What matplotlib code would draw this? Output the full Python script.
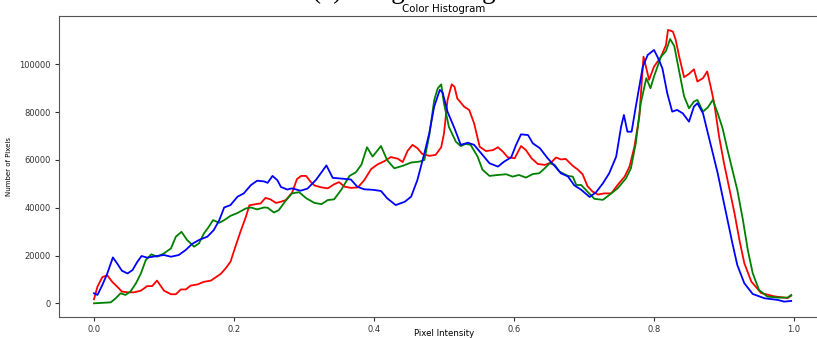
import numpy as np
import matplotlib
matplotlib.use("Agg")
import matplotlib.pyplot as plt

# ---- data (pixel counts in thousands) ----
red_x = [0.000,0.005,0.012,0.019,0.026,0.033,0.040,0.048,0.057,0.067,0.076,0.083,0.090,0.100,0.110,0.117,
         0.124,0.131,0.138,0.148,0.157,0.167,0.174,0.181,0.188,0.195,0.202,0.210,0.217,0.222,0.231,0.238,
         0.245,0.252,0.260,0.267,0.274,0.283,0.290,0.296,0.303,0.309,0.315,0.325,0.334,0.343,0.350,0.358,
         0.367,0.377,0.386,0.396,0.405,0.415,0.424,0.434,0.441,0.448,0.455,0.462,0.469,0.479,0.488,0.496,
         0.500,0.505,0.511,0.515,0.519,0.529,0.536,0.543,0.551,0.560,0.570,0.577,0.584,0.591,0.601,0.610,
         0.617,0.625,0.634,0.644,0.653,0.660,0.667,0.674,0.684,0.691,0.698,0.705,0.712,0.720,0.729,0.739,
         0.748,0.758,0.765,0.772,0.779,0.785,0.793,0.800,0.810,0.817,0.820,0.827,0.831,0.836,0.843,0.850,
         0.857,0.862,0.870,0.876,0.881,0.886,0.893,0.900,0.907,0.915,0.922,0.929,0.939,0.953,0.972,0.991,0.996]
red_k = [1.7,7,11,11.7,9,7,4.9,4.6,4.6,5.3,7.2,7.2,9.5,5.3,3.8,3.8,
         5.8,5.8,7.4,7.9,9.0,9.5,10.9,12.3,14.6,17.4,23.7,30.6,36.2,41,41.5,41.8,
         44.1,43.5,42,42.5,43.2,46.3,52,53.3,53.3,51,49.3,48.5,48.1,49.8,50.7,48.8,
         48.3,48.5,51.5,56.2,58.1,59.5,61.2,60.5,59.1,63.8,66.3,64.9,62.5,61.7,62.1,65.3,
         71.1,85,91.6,90.6,85.7,82.2,80.9,75.3,65.5,63.7,64.1,65.3,63.5,61.1,60.7,65.8,
         64.1,60.7,58.3,57.9,58.9,61.0,60.2,60.4,57.5,56,54,49,46.8,45.5,46,46,
         49.5,53,57.2,65.5,78.1,103.2,93.5,99,103.2,108,114.4,113.7,110.2,103.2,94.6,96,
         97.9,92.8,94.2,97,90.6,83.7,69.7,58.6,48.8,37.7,26.5,16.8,9.1,4.3,2.9,2.2,3.2]

green_x = [0.000,0.024,0.031,0.038,0.045,0.052,0.060,0.067,0.074,0.082,0.090,0.100,0.110,0.117,0.125,0.133,
           0.143,0.150,0.157,0.164,0.170,0.179,0.186,0.195,0.205,0.217,0.224,0.233,0.243,0.248,0.257,0.264,
           0.274,0.283,0.293,0.303,0.315,0.325,0.334,0.343,0.353,0.365,0.374,0.382,0.390,0.398,0.410,0.419,
           0.429,0.441,0.453,0.465,0.472,0.479,0.486,0.491,0.496,0.500,0.507,0.517,0.524,0.531,0.538,0.548,
           0.555,0.565,0.577,0.589,0.598,0.607,0.617,0.627,0.636,0.644,0.651,0.658,0.665,0.677,0.684,0.689,
           0.696,0.705,0.715,0.727,0.736,0.748,0.760,0.767,0.774,0.781,0.789,0.795,0.800,0.810,0.817,0.823,
           0.829,0.836,0.843,0.850,0.857,0.862,0.870,0.877,0.884,0.891,0.898,0.905,0.912,0.919,0.927,0.934,
           0.941,0.950,0.962,0.977,0.991,0.996]
green_k = [0,0.4,2.1,4.2,3.5,4.9,8.4,12.5,18.1,20.5,19.5,20.9,23,27.9,29.9,26.5,
           23.7,25.1,29.2,32,34.8,33.7,34.8,36.6,37.8,39.7,40.1,39.3,40.1,40,38,39,
           43,46,46.5,44,42,41.5,43.2,43.5,47.4,53.3,54.8,58,65.3,61.4,65.8,59.8,
           56.5,57.5,58.9,59.3,60,70.4,85,89.9,91.6,83.6,73.8,67.6,65.8,66.7,66.3,61.4,
           55.9,53.3,53.7,54,53,53.7,52.6,54.1,54.4,56.5,58.6,57.9,55.1,53.3,53,49.5,
           49.5,46.7,43.7,43.3,45.3,48.1,52.3,56.5,67,83.6,94.2,90,94.9,103.2,105.5,110.6,
           107.6,97,86.6,81.6,84.4,85.1,80.2,82,85.1,79.5,73.2,64.2,55.8,47.4,34.9,22.3,
           12.6,5.6,2.8,2.4,2.4,3.5]

blue_x = [0.000,0.005,0.012,0.019,0.027,0.033,0.040,0.048,0.055,0.062,0.068,0.076,0.090,0.100,0.110,0.121,
          0.131,0.140,0.150,0.162,0.171,0.179,0.186,0.195,0.205,0.214,0.224,0.233,0.243,0.248,0.255,0.262,
          0.267,0.276,0.283,0.295,0.305,0.317,0.324,0.332,0.341,0.353,0.367,0.376,0.386,0.398,0.410,0.419,
          0.431,0.444,0.453,0.462,0.472,0.479,0.486,0.494,0.498,0.505,0.515,0.524,0.534,0.543,0.553,0.565,
          0.577,0.586,0.596,0.603,0.610,0.620,0.627,0.637,0.648,0.658,0.667,0.677,0.686,0.696,0.708,0.717,
          0.727,0.736,0.746,0.753,0.757,0.762,0.768,0.774,0.784,0.791,0.800,0.806,0.812,0.819,0.826,0.833,
          0.841,0.850,0.857,0.862,0.870,0.877,0.884,0.891,0.898,0.905,0.912,0.919,0.929,0.941,0.958,0.977,
          0.986,0.996]
blue_k = [4.2,3.5,7.7,12.5,19.2,16.7,13.6,12.5,13.9,17.4,19.8,19.1,19.8,20.2,19.5,20.2,
          22.3,24.8,26.5,27.9,30.6,34.8,40.1,41.1,44.6,46,49.4,51.3,51,50.4,53.3,51.5,
          48.7,47.6,48.1,47.1,48,51.6,54.4,57.7,52.5,52.2,51.8,48.8,47.7,47.5,47,43.9,
          41.1,42.5,44.6,51.6,62.8,71.2,82.3,89.3,88.2,80.2,73.2,66.3,67.2,66.3,62.8,58.6,
          57.2,59.3,61.1,66.3,70.7,70.4,66.9,64.9,60.7,57.5,54.4,53.1,49.4,47.5,44.5,46.4,
          50.2,54.4,61.4,73.9,78.8,71.8,71.8,82.3,99,103.9,106,102.5,98.3,87.8,80.2,80.9,
          79.5,76,82.3,83.7,79.5,71.1,62.8,54.4,44.6,34.9,25.1,16,8.4,3.9,2.1,1.4,
          0.7,1.0]

SCALE = 1000
x_ticks = [0.0, 0.2, 0.4, 0.6, 0.8, 1.0]
y_ticks = [0, 20000, 40000, 60000, 80000, 100000]

fig = plt.figure(figsize=(8.17, 3.38), dpi=100)
ax = fig.add_axes([0.0722, 0.0621, 0.9425, 0.8905])

series = [(red_x, red_k, 'red'), (green_x, green_k, 'green'), (blue_x, blue_k, 'blue')]
for xs, ks, c in series:
    ax.plot(xs, np.array(ks) * SCALE, color=c, linewidth=1.3)

ax.set_xlim(-0.05, 1.05)
ax.set_ylim(-5730, 120200)
ax.set_xticks(x_ticks)
ax.set_yticks(y_ticks)
ax.tick_params(labelsize=6, length=3, pad=3, colors='#333333')
for s in ax.spines.values():
    s.set_color('#555555')
ax.spines['right'].set_visible(False)

ax.set_title('Color Histogram', fontsize=7.4, pad=3)
ax.set_xlabel('Pixel Intensity', fontsize=6.2, va='center')
ax.xaxis.set_label_coords(0.5, -0.054)
ax.set_ylabel('Number of Pixels', fontsize=5, va='center')
ax.yaxis.set_label_coords(-0.065, 0.5)

fig.text(312 / 817, 1 + 1.5 / 338, '(a) Image Histogram', family='Liberation Serif',
         fontsize=19.5, ha='left', va='baseline')

fig.savefig('out.png', dpi=100)
